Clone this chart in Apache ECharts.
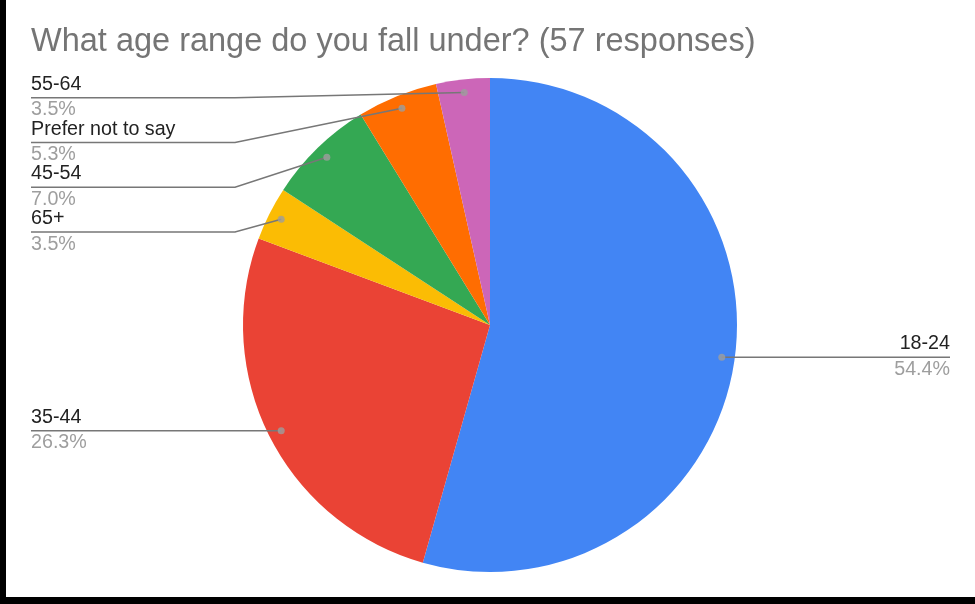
<!DOCTYPE html>
<html>
<head>
<meta charset="utf-8">
<script src="https://cdn.jsdelivr.net/npm/echarts@6/dist/echarts.min.js"></script>
<style>
  html, body { margin: 0; padding: 0; background: #000; }
  #chart { position: absolute; left: 6px; top: 0; width: 969px; height: 597px; background: #fff; }
</style>
</head>
<body>
<div id="chart"></div>
<script>
// ---- data ----
const titleText = 'What age range do you fall under? (57 responses)';
const categories = ['18-24', '35-44', '65+', '45-54', 'Prefer not to say', '55-64'];
const counts = [31, 15, 2, 4, 3, 2];
const colors = ['#4285f4', '#ea4335', '#fbbc04', '#34a853', '#ff6d01', '#cc66b8'];

// ---- layout constants ----
const CX = 484, CY = 325, R = 247, R_DOT = 234, BEND_X = 229;
const LABEL_H = 44.7, LABEL_TOP = 75.5;
const FONT = "'Liberation Sans', Arial, sans-serif";

const total = counts.reduce((a, b) => a + b, 0);
const pieData = categories.map((c, i) => ({ name: c, value: counts[i], itemStyle: { color: colors[i] } }));
let acc = 0;
const dotData = counts.map(v => { const mid = acc + v / 2; acc += v; return [1, mid]; });

// label stacking (Google-style: labels start at their dot's height, pushed down on each side)
const labelY = new Array(counts.length);
(function () {
  const items = dotData.map((d, i) => {
    const a = d[1] / total * 2 * Math.PI;
    return { i, left: Math.sin(a) < 0, y: CY - R_DOT * Math.cos(a) };
  });
  [true, false].forEach(side => {
    const list = items.filter(it => it.left === side).sort((a, b) => a.y - b.y);
    let last = LABEL_TOP - LABEL_H / 2;
    list.forEach(it => { const y = Math.max(it.y, last + LABEL_H); labelY[it.i] = y; last = y; });
  });
})();

const chart = echarts.init(document.getElementById('chart'), null, { renderer: 'canvas' });
chart.setOption({
  animation: false,
  title: {
    text: titleText, left: 25, top: 26, padding: 0,
    textStyle: { fontFamily: FONT, fontSize: 32.5, fontWeight: 'normal', color: '#757575' }
  },
  polar: { center: [CX, CY], radius: R_DOT },
  angleAxis: { type: 'value', min: 0, max: total, startAngle: 90, clockwise: true, show: false },
  radiusAxis: { type: 'value', min: 0, max: 1, show: false },
  series: [
    {
      type: 'pie', center: [CX, CY], radius: R, startAngle: 90, clockwise: true,
      data: pieData, label: { show: false }, labelLine: { show: false }, silent: true,
      itemStyle: { borderWidth: 0 }
    },
    {
      type: 'pie', center: [CX, CY], radius: R_DOT, startAngle: 90, clockwise: true,
      percentPrecision: 1, silent: true, z: 3,
      data: pieData.map(d => ({ name: d.name, value: d.value })),
      itemStyle: { color: 'rgba(0,0,0,0)', borderWidth: 0 },
      emphasis: { disabled: true },
      label: {
        show: true, position: 'outside', alignTo: 'edge', edgeDistance: 25,
        distanceToLabelLine: 0,
        formatter: p => '{n|' + p.name + '}\n{p|' + p.percent.toFixed(1) + '%}',
        rich: {
          n: { fontFamily: FONT, fontSize: 19.7, color: '#222222', lineHeight: 24.4 },
          p: { fontFamily: FONT, fontSize: 19.7, color: '#9e9e9e', lineHeight: 26.8 }
        }
      },
      labelLine: { show: true, length: 4, length2: 10, smooth: false, lineStyle: { color: '#777777', width: 1.5 } },
      labelLayout: function (params) {
        const p = params.labelLinePoints;
        if (!p) return {};
        const r = params.labelRect;
        const y = labelY[params.dataIndex];
        if (p[2][0] < p[0][0]) {
          return { y: y, verticalAlign: 'middle', labelLinePoints: [p[0], [BEND_X, y], [r.x, y]] };
        }
        return { y: y, verticalAlign: 'middle', labelLinePoints: [p[0], [p[0][0] + 1, y], [r.x + r.width, y]] };
      }
    },
    {
      type: 'scatter', coordinateSystem: 'polar', data: dotData, symbolSize: 7, z: 5, silent: true,
      itemStyle: { color: '#9e9e9e' }
    }
  ]
});
</script>
</body>
</html>
